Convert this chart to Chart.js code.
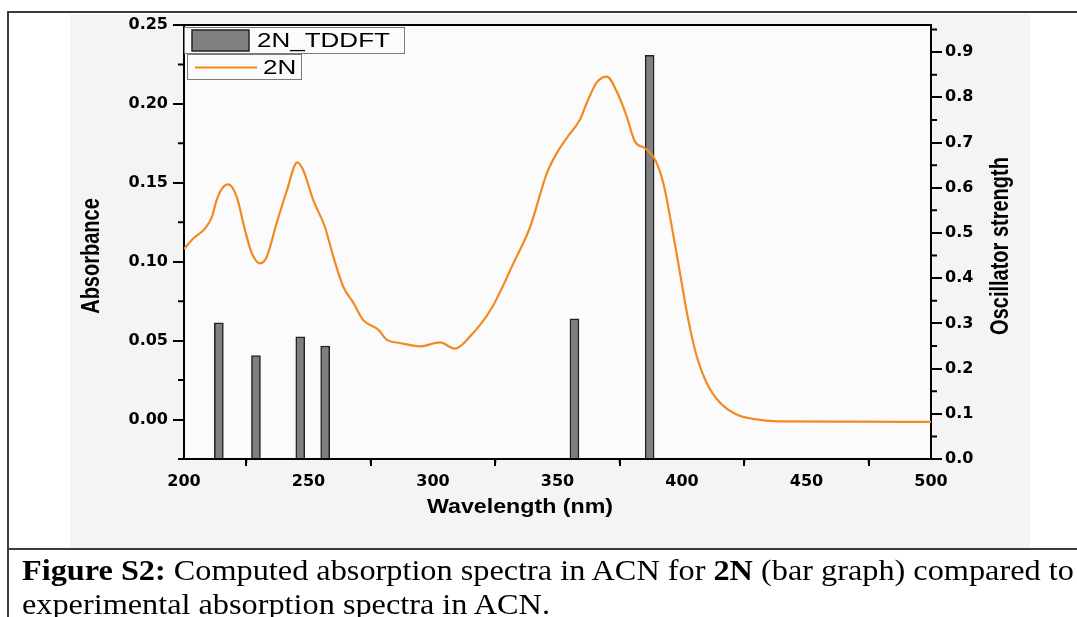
<!DOCTYPE html>
<html>
<head>
<meta charset="utf-8">
<script src="https://cdn.jsdelivr.net/npm/chart.js@4.4.1/dist/chart.umd.min.js"></script>
<style>
  html, body { margin: 0; padding: 0; background: #fff; }
  body { width: 1077px; height: 617px; position: relative; overflow: hidden; }
  #chart { position: absolute; left: 0; top: 0; }
  .rule { position: absolute; background: #3c3c3c; }
  #caption {
    position: absolute; left: 22px; top: 553px;
    font-family: "Liberation Serif", "Times New Roman", serif;
    font-size: 29px; line-height: 34px; color: #000; white-space: nowrap;
    transform: scaleX(1.113); transform-origin: 0 0;
  }
</style>
</head>
<body>
<canvas id="chart" width="1077" height="549"></canvas>
<div class="rule" style="left:7px;top:11px;width:1070px;height:2px"></div>
<div class="rule" style="left:7px;top:11px;width:2px;height:606px"></div>
<div class="rule" style="left:7px;top:548px;width:1070px;height:2px"></div>
<div id="caption"><b>Figure S2:</b> Computed absorption spectra in ACN for <b>2N</b> (bar graph) compared to<br>experimental absorption spectra in ACN.</div>

<script>
// measured spectrum of 2N (wavelength in nm, absorbance)
const wavelength = [200, 203.9, 208.4, 211.1, 213.1, 215.1, 217.8, 221.2, 224.5, 227.2,
  230.5, 233.2, 237.2, 241.2, 245.5, 247.9, 251.9, 256.6, 260, 264,
  268, 272, 278, 281.4, 286.7, 294.8, 302.8, 308.8, 314.9, 323.6,
  332.3, 339, 345.7, 349.7, 354.3, 359, 361.7, 365.7, 369.8, 373.8,
  377.8, 381.1, 385.1, 389.2, 392.5, 395.9, 399.2, 402.5, 405.9, 409.9,
  415.3, 421.9, 428.6, 438.6, 470, 500];
const absorbance = [0.108, 0.115, 0.121, 0.128, 0.139, 0.146, 0.149, 0.141, 0.120, 0.1055,
  0.099, 0.103, 0.1245, 0.1445, 0.163, 0.158, 0.139, 0.122, 0.103, 0.084,
  0.074, 0.063, 0.057, 0.0506, 0.0485, 0.0464, 0.0489, 0.0449, 0.0527, 0.0707,
  0.099, 0.122, 0.156, 0.1688, 0.1797, 0.190, 0.2004, 0.2135, 0.2173, 0.2078,
  0.192, 0.1761, 0.172, 0.1646, 0.1498, 0.1223, 0.0928, 0.0633, 0.0401, 0.0232,
  0.0106, 0.0032, 0.0004, -0.0011, -0.0013, -0.0015];

// TDDFT transitions (nm, oscillator strength)
const tddftWavelength = [214.0, 228.9, 246.7, 256.7, 356.8, 387.0];
const oscStrength = [0.301, 0.229, 0.270, 0.250, 0.310, 0.893];

// ticks
const wlTicks = [200, 250, 300, 350, 400, 450, 500];
const wlMinor = [225, 275, 325, 375, 425, 475];
const absTicks = [0.00, 0.05, 0.10, 0.15, 0.20, 0.25];
const absMinor = [-0.025, 0.025, 0.075, 0.125, 0.175, 0.225];
const oscTicks = [0.0, 0.1, 0.2, 0.3, 0.4, 0.5, 0.6, 0.7, 0.8, 0.9];
const oscMinor = [0.05, 0.15, 0.25, 0.35, 0.45, 0.55, 0.65, 0.75, 0.85, 0.95];

const barColor = '#808080';
const lineColor = '#f28a22';
const tickFont = { family: 'DejaVu Sans', weight: 'bold', size: 16 };

// draws text stretched horizontally like the original figure
function wideText(ctx, text, x, y, sx, rot) {
  ctx.save();
  ctx.translate(x, y);
  ctx.scale(sx, 1);
  if (rot) ctx.rotate(rot);
  ctx.fillText(text, 0, 0);
  ctx.restore();
}

const decor = {
  id: 'decor',
  beforeDraw(chart) {
    const { ctx, chartArea: a } = chart;
    ctx.save();
    ctx.fillStyle = '#f4f4f4';
    ctx.fillRect(70, 14, 960, 534);
    ctx.fillStyle = '#fbfbfb';
    ctx.fillRect(a.left, a.top, a.right - a.left, a.bottom - a.top);
    ctx.restore();
  },
  afterDraw(chart) {
    const { ctx, chartArea: a, scales } = chart;
    ctx.save();
    ctx.strokeStyle = '#000';
    ctx.lineWidth = 2;
    // top frame line
    ctx.beginPath();
    ctx.moveTo(a.left - 1, a.top);
    ctx.lineTo(a.right + 1, a.top);
    ctx.stroke();
    // minor ticks
    ctx.beginPath();
    wlMinor.forEach(v => {
      const p = scales.x.getPixelForValue(v);
      ctx.moveTo(p, a.bottom); ctx.lineTo(p, a.bottom + 4);
    });
    absMinor.forEach(v => {
      const p = scales.y.getPixelForValue(v);
      ctx.moveTo(a.left, p); ctx.lineTo(a.left - 6, p);
    });
    oscMinor.forEach(v => {
      const p = scales.y1.getPixelForValue(v);
      ctx.moveTo(a.right, p); ctx.lineTo(a.right + 6, p);
    });
    ctx.stroke();

    // axis titles
    ctx.fillStyle = '#000';
    ctx.font = 'bold 20px "Liberation Sans", Arial, sans-serif';
    ctx.textAlign = 'center';
    ctx.textBaseline = 'middle';
    wideText(ctx, 'Absorbance', 92, 256, 1.25, -Math.PI / 2);
    wideText(ctx, 'Oscillator strength', 1001, 246, 1.25, -Math.PI / 2);
    wideText(ctx, 'Wavelength (nm)', 520, 507, 1.16);

    // legend: two separate boxes like the original
    const ds = chart.data.datasets;
    ctx.lineWidth = 1;
    ctx.strokeStyle = '#7a7a7a';
    ctx.fillStyle = '#fbfbfb';
    ctx.fillRect(184.5, 27.5, 220, 26);
    ctx.strokeRect(184.5, 27.5, 220, 26);
    ctx.fillRect(187.5, 54.5, 114, 25);
    ctx.strokeRect(187.5, 54.5, 114, 25);

    ctx.fillStyle = barColor;
    ctx.fillRect(192, 30, 57, 21);
    ctx.strokeStyle = '#222';
    ctx.lineWidth = 1.5;
    ctx.strokeRect(192, 30, 57, 21);

    ctx.strokeStyle = lineColor;
    ctx.lineWidth = 2;
    ctx.beginPath();
    ctx.moveTo(195, 67.5); ctx.lineTo(257, 67.5);
    ctx.stroke();

    ctx.fillStyle = '#000';
    ctx.font = '20px "Liberation Sans", Arial, sans-serif';
    ctx.textAlign = 'left';
    ctx.textBaseline = 'alphabetic';
    wideText(ctx, ds[0].label, 257, 47, 1.3);
    wideText(ctx, ds[1].label, 263, 74, 1.3);
    ctx.restore();
  }
};

const ctx = document.getElementById('chart').getContext('2d');
new Chart(ctx, {
  type: 'bar',
  data: {
    datasets: [
      {
        type: 'bar',
        label: '2N_TDDFT',
        data: tddftWavelength.map((w, i) => ({ x: w, y: oscStrength[i] })),
        yAxisID: 'y1',
        backgroundColor: barColor,
        borderColor: '#222',
        borderWidth: 1.5,
        barThickness: 9,
        order: 2
      },
      {
        type: 'line',
        label: '2N',
        data: wavelength.map((w, i) => ({ x: w, y: absorbance[i] })),
        yAxisID: 'y',
        borderColor: lineColor,
        borderWidth: 2.2,
        pointRadius: 0,
        cubicInterpolationMode: 'monotone',
        order: 1
      }
    ]
  },
  options: {
    responsive: false,
    animation: false,
    layout: { padding: { left: 70, right: 47, top: 25, bottom: 9 } },
    plugins: { legend: { display: false }, tooltip: { enabled: false } },
    scales: {
      x: {
        type: 'linear',
        position: 'bottom',
        min: 200, max: 500,
        offset: false,
        afterBuildTicks: s => { s.ticks = wlTicks.map(v => ({ value: v })); },
        afterFit: s => { s.height = 81; },
        ticks: { font: tickFont, color: '#000', padding: 6, maxRotation: 0, autoSkip: false,
          callback: v => String(v) },
        grid: { drawOnChartArea: false, tickLength: 7, color: '#000', lineWidth: 2 },
        border: { color: '#000', width: 2 }
      },
      y: {
        position: 'left',
        min: -0.025, max: 0.25,
        afterBuildTicks: s => { s.ticks = absTicks.map(v => ({ value: v })); },
        afterFit: s => { s.width = 114; },
        ticks: { font: tickFont, color: '#000', padding: 5, callback: v => v.toFixed(2) },
        grid: { drawOnChartArea: false, tickLength: 11, color: '#000', lineWidth: 2 },
        border: { color: '#000', width: 2 }
      },
      y1: {
        position: 'right',
        min: 0, max: 0.96,
        afterBuildTicks: s => { s.ticks = oscTicks.map(v => ({ value: v })); },
        afterFit: s => { s.width = 99; },
        ticks: { font: tickFont, color: '#000', padding: 3, callback: v => v.toFixed(1) },
        grid: { drawOnChartArea: false, tickLength: 11, color: '#000', lineWidth: 2 },
        border: { color: '#000', width: 2 }
      }
    }
  },
  plugins: [decor]
});
</script>
</body>
</html>
